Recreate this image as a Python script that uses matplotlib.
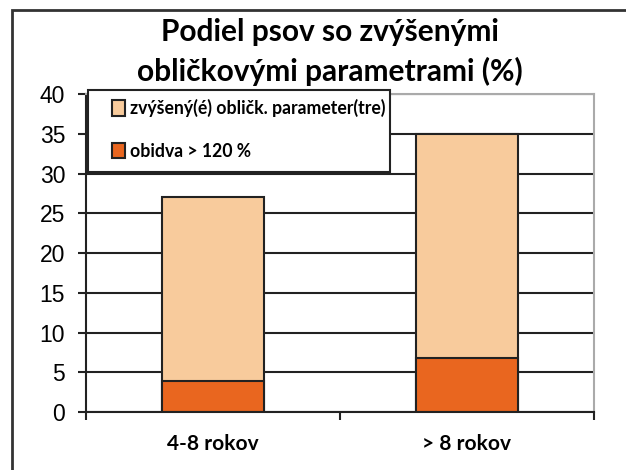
from matplotlib import pyplot as plt
from matplotlib.patches import Rectangle
import numpy as np

categories = ["4-8 rokov", "> 8 rokov"]
elevated = [27.0, 35.0]
both = [3.9, 6.8]
series_labels = ["zvýšený(é) obličk. parameter(tre)", "obidva > 120 %"]
yticks = [0, 5, 10, 15, 20, 25, 30, 35, 40]

light = "#F8CB9C"
orange = "#E9661F"

fig = plt.figure(figsize=(6.26, 4.70), dpi=100)
ax = fig.add_axes([86 / 626, 1 - 412 / 470, 508 / 626, 318 / 470])

x = np.arange(len(categories))
ax.bar(x, elevated, width=0.4, color=light, edgecolor="#222222", linewidth=1.5,
       zorder=2, label=series_labels[0])
ax.bar(x, both, width=0.4, color=orange, edgecolor="#222222", linewidth=1.5,
       zorder=2, label=series_labels[1])

ax.set_xlim(-0.5, 1.5)
ax.set_ylim(0, 40)
ax.set_yticks(yticks)
ax.set_yticklabels([str(v) for v in yticks], fontsize=16.5, family="Liberation Sans")
ax.tick_params(axis="y", length=6, width=1.5, pad=9, color="#222222")

ax.set_xticks([-0.5, 0.5, 1.5])
ax.set_xticklabels([])
ax.tick_params(axis="x", length=6, width=1.5, color="#222222")
ax.set_xticks(x, minor=True)
ax.set_xticklabels(categories, minor=True, fontsize=15, fontweight="bold", family="Lato")
ax.tick_params(axis="x", which="minor", length=0, pad=16)

ax.grid(axis="y", color="#222222", linewidth=1.5, zorder=0.5)
ax.set_axisbelow(True)
for s in ["left", "bottom"]:
    ax.spines[s].set_color("#222222")
    ax.spines[s].set_linewidth(1.5)
for s in ["top", "right"]:
    ax.spines[s].set_color("#aaaaaa")
    ax.spines[s].set_linewidth(1.5)

# legend box
box = Rectangle((2 / 508, (412 - 172) / 318), 302 / 508, 82 / 318,
                transform=ax.transAxes, facecolor="white", edgecolor="#222222",
                linewidth=1.5, zorder=3, clip_on=False)
ax.add_patch(box)
leg = ax.legend(loc="upper left", bbox_to_anchor=(26 / 508, (412 - 99) / 318),
                frameon=False, borderpad=0, borderaxespad=0, handlelength=0.75,
                handleheight=0.95, handletextpad=0.25, labelspacing=1.45,
                prop={"family": "Lato", "weight": "bold", "size": 12.7})
leg.set_zorder(4)

fig.text(330 / 626, 1 - 52 / 470, "Podiel psov so zvýšenými\nobličkovými parametrami (%)",
         ha="center", va="center", fontsize=21.5, fontweight="bold", family="Lato",
         linespacing=1.45)

# outer frame
frame = Rectangle((12 / 626, -0.1), 1.2, 1.1 - 10 / 470, transform=fig.transFigure,
                  facecolor="none", edgecolor="#333333", linewidth=2, clip_on=False)
fig.patches.append(frame)

plt.savefig("out.png")
